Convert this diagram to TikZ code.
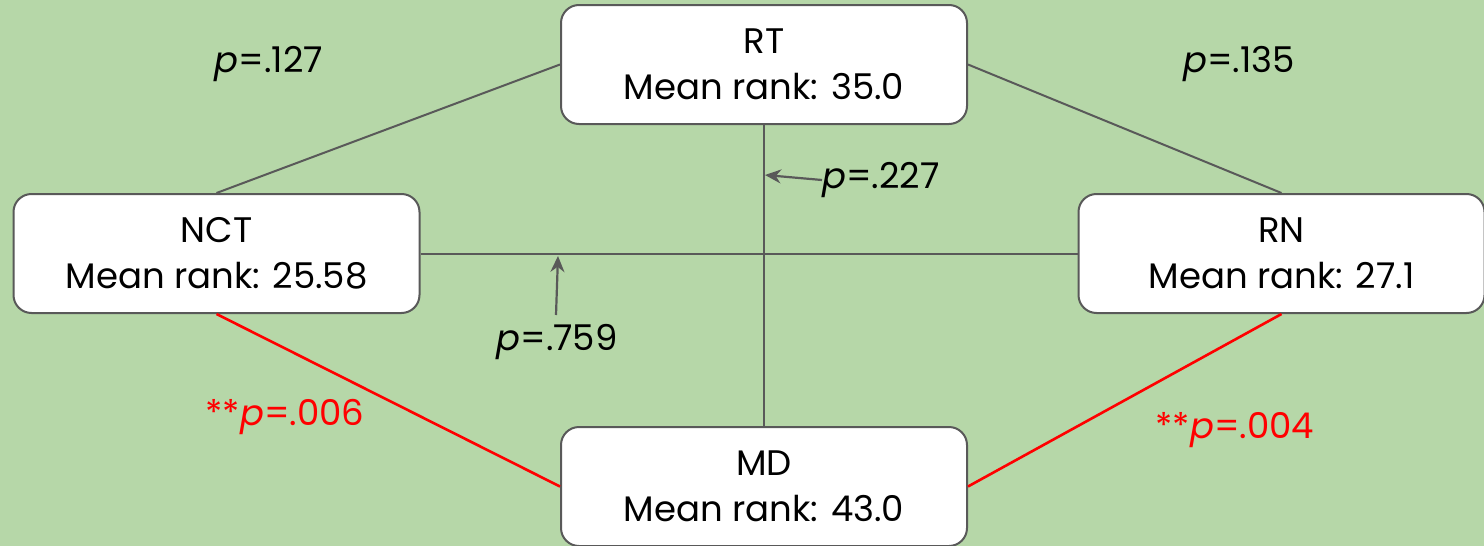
\documentclass[tikz,border=0pt]{standalone}
\usepackage{fontspec}
\setmainfont{Poppins}
\usetikzlibrary{arrows.meta}
\definecolor{bg}{HTML}{B6D7A8}
\definecolor{edge}{HTML}{595959}
\definecolor{sig}{HTML}{FF0000}
\begin{document}
\begin{tikzpicture}[x=1pt,y=-1pt,
  box/.style={draw=edge,line width=2pt,fill=white,rounded corners=18pt,
    minimum width=406pt,minimum height=119pt,align=center,inner sep=0pt,
    font=\fontsize{35.5}{46}\selectfont},
  conn/.style={draw=edge,line width=2pt},
  sigconn/.style={draw=sig,line width=2.6pt},
  lbl/.style={font=\fontsize{35.5}{40}\selectfont,inner sep=0pt},
  siglbl/.style={lbl,text=sig},
  ptr/.style={draw=edge,line width=2.2pt,-{Stealth[length=16pt,width=14pt]}}]
\fill[bg] (0,0) rectangle (1484,546);
\useasboundingbox (0,0) rectangle (1484,546);
\node[box] (RT) at (764,64.5) {RT\\Mean rank: 35.0};
\node[box] (NCT) at (216.5,253.5) {NCT\\Mean rank: 25.58};
\node[box] (RN) at (1281.5,253.5) {RN\\Mean rank: 27.1};
\node[box] (MD) at (764,486.5) {MD\\Mean rank: 43.0};
\path[conn] (RT.west) -- (NCT.north);
\path[conn] (RT.east) -- (RN.north);
\path[conn] (RT.south) -- (MD.north);
\path[conn] (NCT.east) -- (RN.west);
\path[sigconn] (NCT.south) -- (MD.west);
\path[sigconn] (RN.south) -- (MD.east);
\coordinate (t227) at (765,175);
\coordinate (t759) at (558,256);
\node[lbl,anchor=west] (p227) at (822,180) {\textit{p}=.227};
\node[lbl] (p759) at (557,342) {\textit{p}=.759};
\coordinate (s759) at (556,315);
\draw[ptr] (p227.west) -- (t227);
\draw[ptr] (s759) -- (t759);
\node[lbl] (p127) at (269,64) {\textit{p}=.127};
\node[lbl] (p135) at (1239,64) {\textit{p}=.135};
\node[siglbl] (p006) at (285,417) {**\textit{p}=.006};
\node[siglbl] (p004) at (1235,430) {**\textit{p}=.004};
\end{tikzpicture}
\end{document}
